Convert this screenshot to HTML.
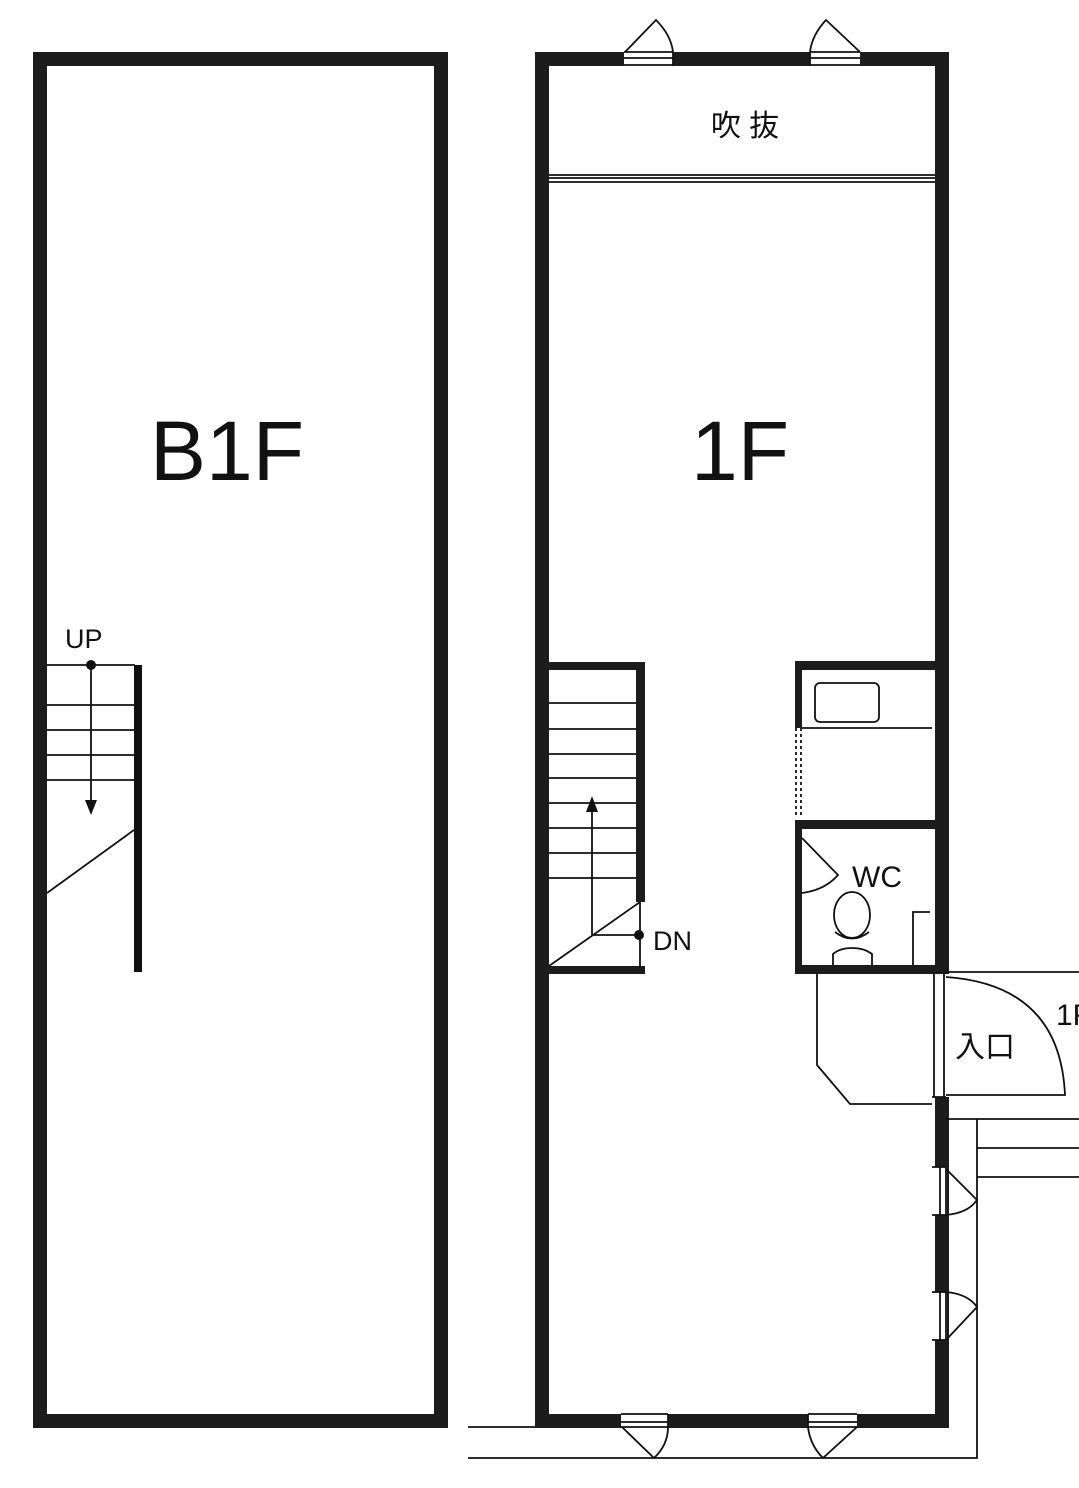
<!DOCTYPE html>
<html><head><meta charset="utf-8"><style>
html,body{margin:0;padding:0;background:#fff;width:1079px;height:1488px;overflow:hidden}
svg{display:block}
text{font-family:"Liberation Sans","Noto Sans CJK JP",sans-serif;fill:#111}
</style></head><body>
<svg width="1079" height="1488" viewBox="0 0 1079 1488" xmlns="http://www.w3.org/2000/svg">
<g fill="#1c1c1c" stroke="none">
<path fill-rule="evenodd" d="M33 52H448V1428H33Z M47 66V1414H434V66Z"/>
<path fill-rule="evenodd" d="M535 52H949V1428H535Z M549 66V1414H935V66Z"/>
</g>
<g fill="#fff">
<rect x="624" y="51" width="49" height="16"/>
<rect x="810" y="51" width="50" height="16"/>
<rect x="621" y="1413" width="47" height="16"/>
<rect x="808" y="1413" width="49" height="16"/>
<rect x="931" y="974" width="19" height="123"/>
<rect x="931" y="1167" width="16" height="48"/>
<rect x="931" y="1292" width="16" height="48"/>
</g>
<g fill="none" stroke="#111" stroke-width="1.8">
<path d="M624 52H673M624 58H673M624 65H673M810 52H860M810 58H860M810 65H860M673 52V66M810 52V66"/>
<path d="M625 52L656 20Q671 35 673 52"/>
<path d="M810 52Q812 35 826 20L860 52"/>
<path d="M621 1427H668M621 1422H668M621 1414H668M808 1427H857M808 1422H857M808 1414H857M668 1414V1428M808 1414V1428"/>
<path d="M622 1427L654 1458Q668 1445 668 1427"/>
<path d="M808 1427Q810 1445 823 1458L857 1427"/>
<path d="M468 1427H535M468 1458H977V1119M946 1119H1079M977 1148H1079M977 1177H1079"/>
<path d="M932 1167H946M932 1215H946M932 1292H946M932 1340H946M940 1167V1215M940 1292V1340M946 1167V1215M946 1292V1340"/>
<path d="M946 1169L977 1200Q968 1213 946 1215"/>
<path d="M946 1292Q968 1294 977 1307L946 1340"/>
<path d="M549 175H935M549 178H935M549 182H935"/>
<path d="M47 665H135M47 705H135M47 730H135M47 755H135M47 780H135M91 665V805M47 893L134 830"/>
</g>
<rect x="134" y="665" width="8" height="307" fill="#111"/>
<circle cx="91" cy="665" r="5" fill="#111"/>
<path d="M85 800L91 815L97 800Z" fill="#111"/>
<text x="65" y="648" font-size="27">UP</text>
<text x="227" y="480" font-size="84" text-anchor="middle">B1F</text>
<text x="740" y="480" font-size="84" text-anchor="middle">1F</text>
<text x="745" y="136" font-size="30" text-anchor="middle">吹 抜</text>
<g fill="#1c1c1c">
<rect x="549" y="662" width="96" height="8"/>
<rect x="636" y="662" width="9" height="240"/>
<rect x="549" y="966" width="96" height="8"/>
</g>
<g fill="none" stroke="#111" stroke-width="1.8">
<path d="M549 703H636M549 729H636M549 754H636M549 778H636M549 803H636M549 828H636M549 853H636M549 878H636"/>
<path d="M592 935V800M592 935H639M549 966L640 902M640 902V968"/>
</g>
<path d="M586 812L592 796L598 812Z" fill="#111"/>
<circle cx="639" cy="935" r="5" fill="#111"/>
<text x="653" y="950" font-size="27">DN</text>
<g fill="#1c1c1c">
<rect x="795" y="661" width="140" height="9"/>
<rect x="795" y="661" width="7" height="67"/>
<rect x="795" y="820" width="140" height="9"/>
<rect x="795" y="820" width="7" height="154"/>
<rect x="795" y="965" width="140" height="9"/>
</g>
<g fill="none" stroke="#111" stroke-width="1.8">
<rect x="815" y="683" width="64" height="39" rx="5"/>
<path d="M802 728H932"/>
<path d="M796 728V815M801 728V815" stroke-dasharray="3 3"/>
<path d="M802 838L838 875Q825 890 802 893"/>
<ellipse cx="852" cy="915" rx="18" ry="23"/>
<path d="M835 932Q852 945 869 932M833 965V954Q840 948 852 948Q864 948 872 954V965"/>
<path d="M913 965V912H930"/>
<path d="M946 972H1079M934 974V1097M944 974V1097M946 977Q1060 985 1065 1095H946M946 1097H932"/>
<path d="M817 974V1065L850 1104H932"/>
</g>
<text x="852" y="887" font-size="30">WC</text>
<text x="955" y="1057" font-size="30">入口</text>
<text x="1056" y="1025" font-size="30">1F</text>
</svg>
</body></html>
